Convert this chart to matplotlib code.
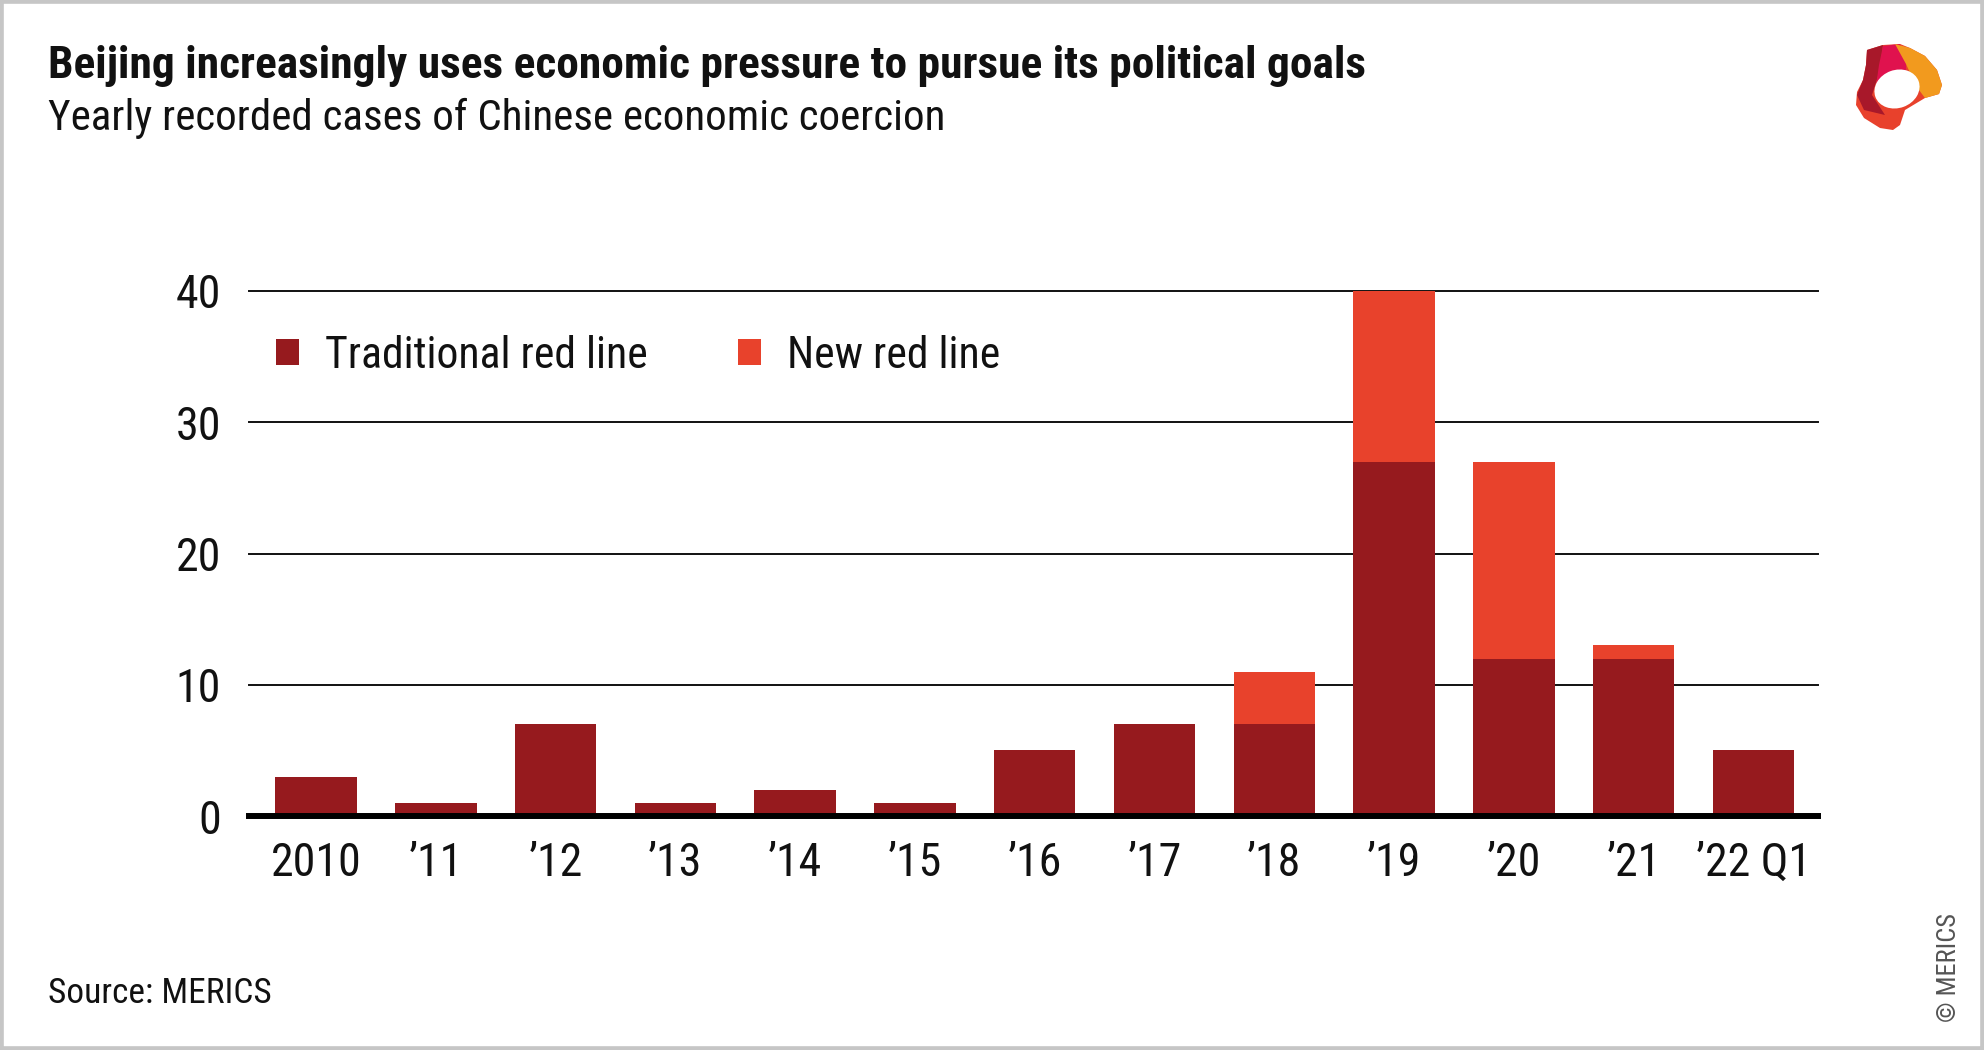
import matplotlib
matplotlib.use("Agg")
import matplotlib.pyplot as plt
from matplotlib import font_manager
from matplotlib.patches import Polygon, Ellipse, Rectangle
import numpy as np

# ---- data ----
categories = ["2010", "’11", "’12", "’13", "’14", "’15", "’16", "’17", "’18", "’19", "’20", "’21", "’22 Q1"]
traditional = [3, 1, 7, 1, 2, 1, 5, 7, 7, 27, 12, 12, 5]
new = [0, 0, 0, 0, 0, 0, 0, 0, 4, 13, 15, 1, 0]
yticks = [0, 10, 20, 30, 40]
series_names = ["Traditional red line", "New red line"]

title = "Beijing increasingly uses economic pressure to pursue its political goals"
subtitle = "Yearly recorded cases of Chinese economic coercion"
source = "Source: MERICS"
credit = "© MERICS"

# ---- fonts ----
available = {f.name for f in font_manager.fontManager.ttflist}
prefs = ["Liberation Sans Narrow", "Roboto Condensed", "Open Sans Condensed", "Roboto", "DejaVu Sans"]
fam = [f for f in prefs if f in available] + ["DejaVu Sans"]
plt.rcParams["font.family"] = fam

C_TRAD = "#961A1E"
C_NEW = "#E8422C"
TXT = "#111111"

W, H = 1984, 1050
fig = plt.figure(figsize=(W / 100, H / 100), dpi=100)
fig.patch.set_facecolor("white")

# frame
fig.patches.append(Rectangle((0, 0), 1, 1, transform=fig.transFigure, fill=False,
                             edgecolor="#c6c6c6", linewidth=5.5, zorder=10))

def fx(px):
    return px / W

def fy(py):
    return 1 - py / H

ax = fig.add_axes([fx(249), fy(816), fx(1818) - fx(249), fy(291) - fy(816)])
x = np.arange(len(categories))
b1 = ax.bar(x, traditional, width=0.68, color=C_TRAD, zorder=3, label=series_names[0])
b2 = ax.bar(x, new, width=0.68, bottom=traditional, color=C_NEW, zorder=3, label=series_names[1])

ax.set_xlim(-0.56, len(categories) - 1 + 0.54)
ax.set_ylim(0, 40)
ax.set_yticks(yticks)
ax.set_yticklabels([str(v) for v in yticks])
ax.set_xticks(x)
ax.set_xticklabels(categories)
for v in yticks[1:]:
    ax.axhline(v, color="#111111", lw=1.4, zorder=2, clip_on=False)
ax.axhline(0, color="#000000", lw=4.3, zorder=4, clip_on=False)
for s in ax.spines.values():
    s.set_visible(False)
ax.tick_params(axis="both", length=0, labelsize=33, labelcolor=TXT)
ax.tick_params(axis="x", pad=18)
ax.tick_params(axis="y", pad=20)

leg = ax.legend(handles=[b1, b2], loc="center left",
                bbox_to_anchor=(fx(276), fy(355.5)), bbox_transform=fig.transFigure,
                ncol=2, frameon=False, fontsize=31.5, handlelength=0.53, handleheight=0.53,
                handletextpad=0.6, columnspacing=2.05, borderpad=0, borderaxespad=0)
for t in leg.get_texts():
    t.set_color(TXT)

fig.text(fx(48), fy(78), title, fontsize=32.7, fontweight="bold", color=TXT, va="baseline", ha="left")
fig.text(fx(48), fy(130), subtitle, fontsize=31, color=TXT, va="baseline", ha="left")
fig.text(fx(48), fy(1003), source, fontsize=25.5, color=TXT, va="baseline", ha="left")
fig.text(fx(1949), fy(968), credit, fontsize=19, color="#555555", rotation=90, va="center", ha="center")

# logo
lax = fig.add_axes([fx(1850), fy(132), fx(1948) - fx(1850), fy(40) - fy(132)])
lax.set_xlim(1850, 1948)
lax.set_ylim(132, 40)
lax.axis("off")
outer = [(1867, 50), (1883, 45), (1900, 44), (1910, 48), (1925, 56), (1937, 70), (1942, 85),
         (1939, 94), (1925, 98), (1905, 110), (1900, 125), (1893, 130), (1880, 128),
         (1864, 118), (1856, 105), (1857, 92), (1863, 80), (1866, 65)]
lax.add_patch(Polygon(outer, closed=True, facecolor="#E8412C", edgecolor="none"))
lax.add_patch(Polygon([(1867, 50), (1883, 45), (1880, 70), (1872, 95), (1885, 115),
                       (1864, 110), (1857, 95), (1863, 80), (1866, 65)],
                      closed=True, facecolor="#A8182A", edgecolor="none"))
lax.add_patch(Polygon([(1883, 46), (1900, 44), (1906, 60), (1906, 82), (1876, 86), (1879, 65)],
                      closed=True, facecolor="#E0124E", edgecolor="none"))
lax.add_patch(Polygon([(1895, 44), (1910, 48), (1925, 56), (1937, 70), (1942, 85), (1939, 94),
                       (1925, 98), (1916, 86), (1906, 64)],
                      closed=True, facecolor="#F29A1E", edgecolor="none"))
lax.add_patch(Ellipse((1897, 89), 46, 38, angle=-20, facecolor="white", edgecolor="none"))

fig.savefig("out.png", dpi=100, facecolor="white")
